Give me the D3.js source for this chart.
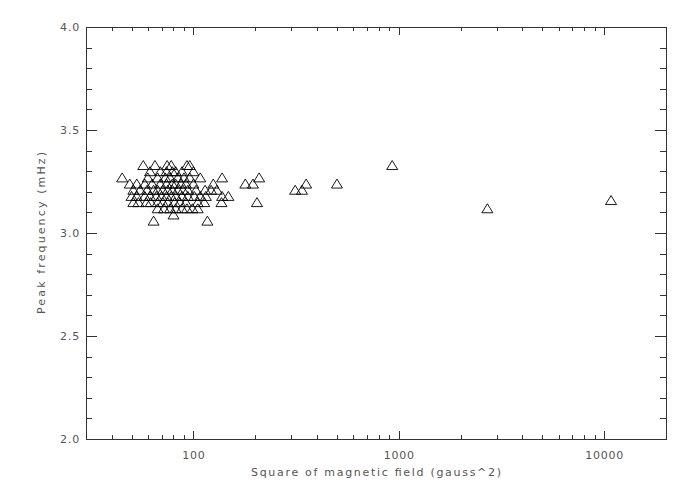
<!DOCTYPE html>
<html>
<head>
<meta charset="utf-8">
<script src="https://cdn.jsdelivr.net/npm/d3@7"></script>
<style>
  body { margin: 0; background: #fff; }
  svg { display: block; }
</style>
</head>
<body>
<svg id="chart" width="692" height="494"></svg>
<script>
// Peak frequency vs square of magnetic field (log x)

// x values in gauss^2, grouped by peak frequency level (mHz)
const gauss2 = [
  57, 65, 74.5, 78, 93, 96, 929,
  61.5, 69, 74, 79, 82, 88, 100,
  45, 60, 67, 73, 77, 84, 90, 96, 108, 138, 209,
  49, 53, 58, 63, 69, 74, 79, 82, 87, 92, 100, 125, 179, 195, 354, 500,
  51, 55, 59.5, 64, 67, 71, 75, 79, 84, 89, 94, 103, 114, 122, 130, 313, 338,
  50, 53, 58, 61.5, 66, 70, 74, 78, 82, 88, 94, 101, 108, 115, 138, 148,
  51, 54, 59, 62, 67, 71, 75, 81, 86, 92, 105, 113, 137, 204,
  10800,
  67, 72, 77, 82, 88, 93, 99, 105, 2700,
  80,
  64, 117
];
const peakFreq = [
  3.33, 3.33, 3.33, 3.33, 3.33, 3.33, 3.33,
  3.30, 3.30, 3.30, 3.30, 3.30, 3.30, 3.30,
  3.27, 3.27, 3.27, 3.27, 3.27, 3.27, 3.27, 3.27, 3.27, 3.27, 3.27,
  3.24, 3.24, 3.24, 3.24, 3.24, 3.24, 3.24, 3.24, 3.24, 3.24, 3.24, 3.24, 3.24, 3.24, 3.24, 3.24,
  3.21, 3.21, 3.21, 3.21, 3.21, 3.21, 3.21, 3.21, 3.21, 3.21, 3.21, 3.21, 3.21, 3.21, 3.21, 3.21, 3.21,
  3.18, 3.18, 3.18, 3.18, 3.18, 3.18, 3.18, 3.18, 3.18, 3.18, 3.18, 3.18, 3.18, 3.18, 3.18, 3.18,
  3.15, 3.15, 3.15, 3.15, 3.15, 3.15, 3.15, 3.15, 3.15, 3.15, 3.15, 3.15, 3.15, 3.15,
  3.16,
  3.12, 3.12, 3.12, 3.12, 3.12, 3.12, 3.12, 3.12, 3.12,
  3.09,
  3.06, 3.06
];

const xMajorTicks = [100, 1000, 10000];
const xMinorTicks = [40, 50, 60, 70, 80, 90, 200, 300, 400, 500, 600, 700, 800, 900,
                     2000, 3000, 4000, 5000, 6000, 7000, 8000, 9000];
const yMajorTicks = [2.0, 2.5, 3.0, 3.5, 4.0];
const yMinorTicks = [2.1, 2.2, 2.3, 2.4, 2.6, 2.7, 2.8, 2.9, 3.1, 3.2, 3.3, 3.4, 3.6, 3.7, 3.8, 3.9];

const xTitle = "Square of magnetic field (gauss^2)";
const yTitle = "Peak frequency (mHz)";

const plotL = 86, plotR = 666, plotT = 27, plotB = 439;
const FONT = "'DejaVu Sans', sans-serif";
const TEXT_COLOR = "#555";
const AXIS_COLOR = "#333";

const svg = d3.select("#chart");

const x = d3.scaleLog().domain([30, 20000]).range([plotL, plotR]);
const y = d3.scaleLinear().domain([2, 4]).range([plotB, plotT]);

function styleAxis(g) {
  g.select(".domain").remove();
  g.selectAll("line").attr("stroke", AXIS_COLOR).attr("shape-rendering", "crispEdges");
  g.selectAll("text")
    .attr("font-family", FONT)
    .attr("font-size", 11)
    .attr("fill", TEXT_COLOR)
    .attr("letter-spacing", "0.8px");
}

// bottom axis
svg.append("g").attr("transform", `translate(0,${plotB})`)
  .call(d3.axisBottom(x).tickValues(xMajorTicks).tickFormat(d3.format("d"))
    .tickSize(-8).tickSizeOuter(0).tickPadding(12))
  .call(styleAxis);
svg.append("g").attr("transform", `translate(0,${plotB})`)
  .call(d3.axisBottom(x).tickValues(xMinorTicks).tickFormat("").tickSize(-4).tickSizeOuter(0))
  .call(styleAxis);

// top axis (ticks only)
svg.append("g").attr("transform", `translate(0,${plotT})`)
  .call(d3.axisTop(x).tickValues(xMajorTicks).tickFormat("").tickSize(-8).tickSizeOuter(0))
  .call(styleAxis);
svg.append("g").attr("transform", `translate(0,${plotT})`)
  .call(d3.axisTop(x).tickValues(xMinorTicks).tickFormat("").tickSize(-4).tickSizeOuter(0))
  .call(styleAxis);

// left axis
svg.append("g").attr("transform", `translate(${plotL},0)`)
  .call(d3.axisLeft(y).tickValues(yMajorTicks).tickFormat(d3.format(".1f"))
    .tickSize(-11).tickSizeOuter(0).tickPadding(6))
  .call(styleAxis);
svg.append("g").attr("transform", `translate(${plotL},0)`)
  .call(d3.axisLeft(y).tickValues(yMinorTicks).tickFormat("").tickSize(-6).tickSizeOuter(0))
  .call(styleAxis);

// right axis (ticks only)
svg.append("g").attr("transform", `translate(${plotR},0)`)
  .call(d3.axisRight(y).tickValues(yMajorTicks).tickFormat("").tickSize(-11).tickSizeOuter(0))
  .call(styleAxis);
svg.append("g").attr("transform", `translate(${plotR},0)`)
  .call(d3.axisRight(y).tickValues(yMinorTicks).tickFormat("").tickSize(-6).tickSizeOuter(0))
  .call(styleAxis);

// frame
svg.append("rect")
  .attr("x", plotL).attr("y", plotT)
  .attr("width", plotR - plotL).attr("height", plotB - plotT)
  .attr("fill", "none").attr("stroke", AXIS_COLOR)
  .attr("shape-rendering", "crispEdges");

// titles
svg.append("text")
  .attr("x", (plotL + plotR) / 2).attr("y", 476)
  .attr("text-anchor", "middle")
  .attr("font-family", FONT).attr("font-size", 11).attr("fill", TEXT_COLOR)
  .attr("textLength", 250).attr("lengthAdjust", "spacing")
  .text(xTitle);

svg.append("text")
  .attr("transform", `translate(45,${(plotT + plotB) / 2}) rotate(-90)`)
  .attr("text-anchor", "middle")
  .attr("font-family", FONT).attr("font-size", 11).attr("fill", TEXT_COLOR)
  .attr("textLength", 162).attr("lengthAdjust", "spacing")
  .text(yTitle);

// open triangles
const tri = d3.line()([[-5.5, 4.5], [0, -4.5], [5.5, 4.5]]) + "Z";
const points = gauss2.map((g, i) => ({ g, f: peakFreq[i] }));

svg.append("g")
  .selectAll("path")
  .data(points)
  .join("path")
  .attr("d", tri)
  .attr("transform", d => `translate(${x(d.g)},${y(d.f)})`)
  .attr("fill", "none")
  .attr("stroke", "#000")
  .attr("stroke-width", 0.9);
</script>
</body>
</html>
